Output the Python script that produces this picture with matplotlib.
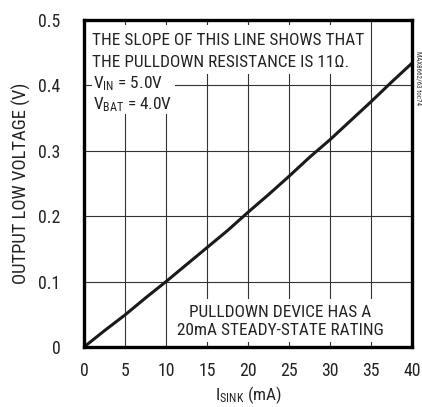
import matplotlib
matplotlib.use("Agg")
import matplotlib.pyplot as plt
from matplotlib.patches import Rectangle

# Output low voltage vs. sink current
i_sink_ma = [0, 2.5, 5, 7.5, 10, 12.5, 15, 17.5, 20, 22.5, 25, 27.5, 30, 32.5, 35, 37.5, 40]
v_ol = [0, 0.025, 0.049, 0.075, 0.100, 0.126, 0.152, 0.178, 0.206, 0.233, 0.261,
        0.290, 0.317, 0.346, 0.375, 0.405, 0.434]

x_ticks = [0, 5, 10, 15, 20, 25, 30, 35, 40]
y_ticks = [0, 0.1, 0.2, 0.3, 0.4, 0.5]
y_tick_labels = ["0", "0.1", "0.2", "0.3", "0.4", "0.5"]

plt.rcParams["font.family"] = ["Roboto Condensed", "Archivo Narrow", "PT Sans Narrow",
                               "Sofia Sans Condensed", "Liberation Sans", "DejaVu Sans"]
plt.rcParams["mathtext.default"] = "regular"

FS = 12.4

fig = plt.figure(figsize=(4.22, 4.07), dpi=100)
ax = fig.add_axes([84 / 422, 60 / 407, 328 / 422, 327 / 407])

ax.set_xlim(0, 40)
ax.set_ylim(0, 0.5)
ax.set_xticks(x_ticks)
ax.set_yticks(y_ticks)
ax.set_yticklabels(y_tick_labels)
ax.tick_params(length=0, labelsize=12.8, colors="#222222")
ax.tick_params(axis="x", pad=11)
ax.tick_params(axis="y", pad=17)

ax.grid(True, color="#333333", linewidth=0.8, zorder=0)
ax.set_axisbelow(True)
for s in ax.spines.values():
    s.set_linewidth(2.4)
    s.set_color("black")
    s.set_zorder(5)

# white backing boxes behind the notes
for (x0, y0, w, h) in [(0.25, 0.418, 33.25, 0.0745),
                       (0.97, 0.3557, 10.13, 0.0625),
                       (11.9, 0.0076, 24.3, 0.0664)]:
    ax.add_patch(Rectangle((x0, y0), w, h, facecolor="white", edgecolor="none", zorder=1.5))

ax.plot(i_sink_ma, v_ol, color="#1a1a1a", linewidth=2.2, solid_capstyle="round", zorder=3)

txt = dict(fontsize=FS, color="#222222", va="baseline", zorder=4)
ax.text(0.94, 0.4618, "THE SLOPE OF THIS LINE SHOWS THAT", ha="left", **txt)
ax.text(0.94, 0.4288, "THE PULLDOWN RESISTANCE IS 11Ω.", ha="left", **txt)
ax.text(1.05, 0.3957, "V$_{IN}$ = 5.0V", ha="left", **txt)
ax.text(1.1, 0.3629, "V$_{BAT}$ = 4.0V", ha="left", **txt)
ax.text(23.9, 0.0457, "PULLDOWN DEVICE HAS A", ha="center", **txt)
ax.text(23.9, 0.0178, "20mA STEADY-STATE RATING", ha="center", **txt)

ax.set_xlabel("I$_{SINK}$ (mA)", fontsize=FS, color="#222222", labelpad=3)
ax.set_ylabel("OUTPUT LOW VOLTAGE (V)", fontsize=13.4, color="#222222", labelpad=5)

fig.text(418 / 422, 1 - 78 / 407, "MAX8662/63 toc74", rotation=270, fontsize=5,
         ha="center", va="center", color="#333333")

fig.savefig("out.png", dpi=100)
